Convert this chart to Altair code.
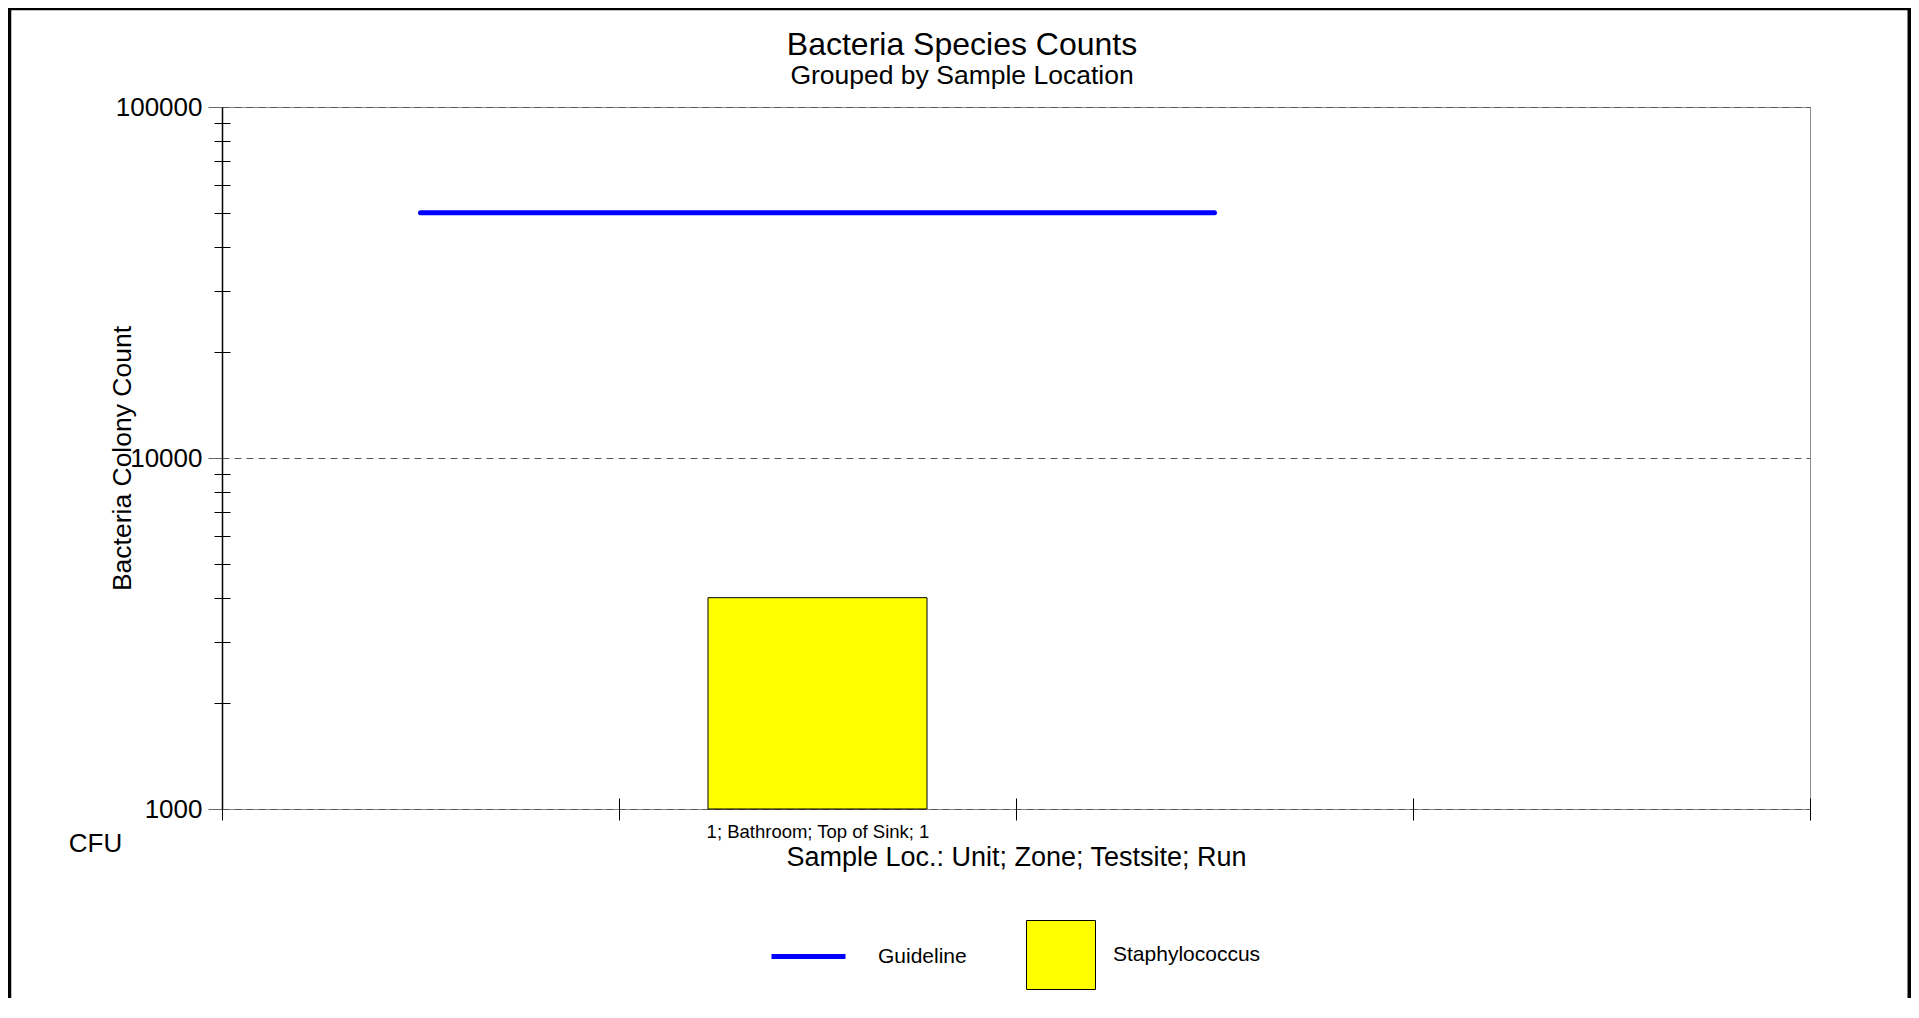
import altair as alt
import pandas as pd

# ---- text ----
title_text = "Bacteria Species Counts"
subtitle_text = "Grouped by Sample Location"
y_title = "Bacteria Colony Count"
x_title = "Sample Loc.: Unit; Zone; Testsite; Run"
unit_label = "CFU"

# ---- data ----
categories = ["1; Bathroom; Top of Sink; 1"]
cat_slots = [1.5]            # slot centre on the 0..4 sample axis
species = ["Staphylococcus"]
counts = [4000]

guide_name = "Guideline"
guide_x = [0.5, 2.5]
guide_y = [50000, 50000]

slot_edges = [0, 1, 2, 3, 4]
y_major = [1000, 10000, 100000]
y_minor = [2000, 3000, 4000, 5000, 6000, 7000, 8000, 9000,
           20000, 30000, 40000, 50000, 60000, 70000, 80000, 90000]

bar_df = pd.DataFrame({"slot": cat_slots, "count": counts,
                       "species": species, "cat": categories})
guide_df = pd.DataFrame({"gx": guide_x, "gy": guide_y,
                         "series": [guide_name] * len(guide_x)})

FONT = "Liberation Sans"
W, H = 1588, 702
PAD = {"left": 214, "top": 99, "right": 101, "bottom": 189}

xscale = alt.Scale(domain=[slot_edges[0], slot_edges[-1]], nice=False, zero=False, padding=0)
yscale = alt.Scale(type="log", domain=[y_major[0], y_major[-1]], nice=False, padding=0)

label_expr = " : ".join(
    f"datum.value == {s} ? '{c}'" for s, c in zip(cat_slots, categories)
) + " : ''"

# outer frame (decoration)
frame = alt.Chart(pd.DataFrame({"k": [0]})).mark_rect(
    filled=False, stroke="black", strokeWidth=3.5
).encode(
    x=alt.value(-212.5), x2=alt.value(1687.25),
    y=alt.value(-98.5), y2=alt.value(950),
)

bars = alt.Chart(bar_df).mark_bar(size=219, stroke="black", strokeWidth=1).encode(
    x=alt.X("slot:Q", scale=xscale, axis=alt.Axis(
        orient="bottom", values=cat_slots, labelExpr=label_expr,
        ticks=False, domain=False, grid=False,
        labelFontSize=18.5, labelPadding=13, labelColor="black",
        labelBaseline="top", labelFont=FONT, labelLimit=0,
        title=x_title, titleFontSize=27, titleFontWeight="normal",
        titleColor="black", titleFont=FONT, titleY=48, titleBaseline="middle",
    )),
    y=alt.Y("count:Q", scale=yscale, axis=alt.Axis(
        orient="left", values=y_major, format="d",
        tickSize=14, tickColor="#666666", tickWidth=1,
        labelFontSize=26, labelPadding=6, labelColor="black", labelFont=FONT,
        labelBaseline="middle",
        domain=True, domainColor="black", domainWidth=1.5,
        grid=True, gridDash=[7, 5], gridColor="#555555", gridWidth=1,
        title=y_title, titleFontSize=26.5, titleFontWeight="normal",
        titleColor="black", titleFont=FONT, titleAngle=270,
        titleX=-100, titleY=H / 2, titleAlign="center", titleBaseline="middle",
    )),
    y2=alt.datum(y_major[0]),
    fill=alt.Fill("species:N", scale=alt.Scale(domain=species, range=["#ffff00"]),
                  legend=alt.Legend(
                      title=None, orient="none", legendX=804, legendY=813,
                      symbolType="square", symbolSize=4761,
                      symbolStrokeColor="black", symbolStrokeWidth=1,
                      labelFontSize=21, labelOffset=17, labelColor="black",
                      labelFont=FONT, padding=0)),
)

guide = alt.Chart(guide_df).mark_line(strokeWidth=5, strokeCap="round").encode(
    x=alt.X("gx:Q", scale=xscale, axis=alt.Axis(
        orient="bottom", values=slot_edges, labels=False,
        ticks=True, tickSize=22, tickColor="black", tickWidth=1,
        offset=-11, domain=False, grid=False,
        title=unit_label, titleFontSize=26, titleFontWeight="normal",
        titleColor="black", titleFont=FONT, titleAngle=0,
        titleX=-127, titleY=45, titleAlign="center", titleBaseline="middle",
    )),
    y=alt.Y("gy:Q", scale=yscale, axis=alt.Axis(
        orient="left", values=y_minor, labels=False,
        ticks=True, tickSize=16, tickColor="black", tickWidth=1,
        offset=-8, domain=False, grid=False, title=None,
    )),
    stroke=alt.Stroke("series:N", scale=alt.Scale(domain=[guide_name], range=["#0000ff"]),
                      legend=alt.Legend(
                          title=None, orient="none", legendX=547, legendY=810,
                          symbolType="stroke", symbolSize=5476, symbolStrokeWidth=5,
                          labelFontSize=21, labelOffset=30, labelColor="black",
                          labelFont=FONT, padding=0)),
)

chart = alt.layer(frame, bars, guide).resolve_axis(
    x="independent", y="independent"
).properties(
    width=W, height=H,
    autosize=alt.AutoSizeParams(type="none"),
    padding=PAD,
    background="white",
    title=alt.TitleParams(
        text=title_text, subtitle=subtitle_text,
        fontSize=32, subtitleFontSize=26.5, fontWeight="normal",
        color="black", subtitleColor="black", font=FONT, subtitleFont=FONT,
        anchor="middle", dx=-54, offset=-83.5, subtitlePadding=1,
    ),
).configure(font=FONT).configure_view(stroke="#8c8c8c", strokeWidth=1)

chart.save("out.html", embed_options={"renderer": "svg", "actions": False})
